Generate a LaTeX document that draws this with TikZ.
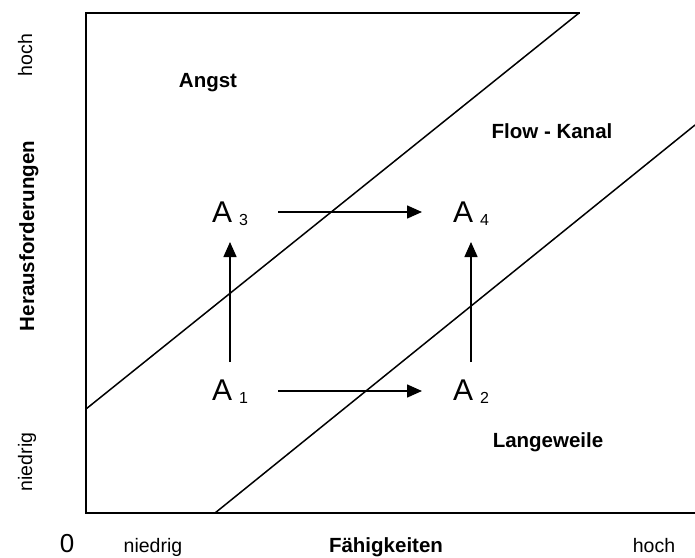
\documentclass[tikz,border=0pt]{standalone}
\usepackage{fontspec}
\setmainfont{Liberation Sans}
\usetikzlibrary{arrows.meta}
\tikzset{
  frame/.style={line width=1.5pt, line cap=rect},
  diag/.style={line width=1.5pt},
  arr/.style={line width=1.5pt, -{Triangle[length=15pt,width=13pt]}},
  big/.style={font=\fontsize{20.5}{22}\selectfont\bfseries, inner sep=0pt},
  lab/.style={font=\fontsize{19.5}{21}\selectfont, inner sep=0pt},
  state/.style={inner sep=0pt, anchor=base}
}
\newcommand{\stlab}[1]{{\fontsize{30}{30}\selectfont A}\hspace{7pt}{\fontsize{16}{16}\selectfont\raisebox{-3pt}{#1}}}
\begin{document}
\begin{tikzpicture}[x=1pt,y=-1pt]
\useasboundingbox (0,0) rectangle (695,557);
% frame
\coordinate (O) at (86,513);
\coordinate (TL) at (86,13);
\coordinate (TR) at (579,13);
\coordinate (BR) at (695,513);
\coordinate (U1) at (86,409);
\coordinate (L1) at (215,513);
\coordinate (L2) at (695,125);
\draw[frame] (TR) -- (TL) -- (O) -- (BR);
\draw[diag] (U1) -- (TR);
\draw[diag] (L1) -- (L2);
% states
\node[state] (A3) at (230,222) {\stlab{3}};
\node[state] (A4) at (471,222) {\stlab{4}};
\node[state] (A1) at (230,400) {\stlab{1}};
\node[state] (A2) at (471,400) {\stlab{2}};
\draw[arr] ([xshift=48pt,yshift=10pt]A3.base) -- ([xshift=-49pt,yshift=10pt]A4.base);
\draw[arr] ([xshift=48pt,yshift=9pt]A1.base) -- ([xshift=-49pt,yshift=9pt]A2.base);
\draw[arr] ([yshift=38pt]A1.base) -- ([yshift=-20pt]A3.base);
\draw[arr] ([yshift=38pt]A2.base) -- ([yshift=-20pt]A4.base);
% region labels
\node[big] (angst) at (208,83) {Angst};
\node[big] (flow) at (552,131) {Flow - Kanal};
\node[big, anchor=base] (lw) at (548,447) {Langeweile};
% axis labels
\node[lab, rotate=90, anchor=base] (yhoch) at (32,55) {hoch};
\node[big, rotate=90, anchor=base] (ylab) at (34,236) {Herausforderungen};
\node[lab, rotate=90, anchor=base] (yniedrig) at (32,462) {niedrig};
\node[font=\fontsize{26}{26}\selectfont, inner sep=0pt, anchor=base] (zero) at (67,552) {0};
\node[lab, anchor=base] (xniedrig) at (153,552) {niedrig};
\node[big, anchor=base] (xlab) at (386,552) {Fähigkeiten};
\node[lab, anchor=base] (xhoch) at (654,552) {hoch};
\end{tikzpicture}
\end{document}
